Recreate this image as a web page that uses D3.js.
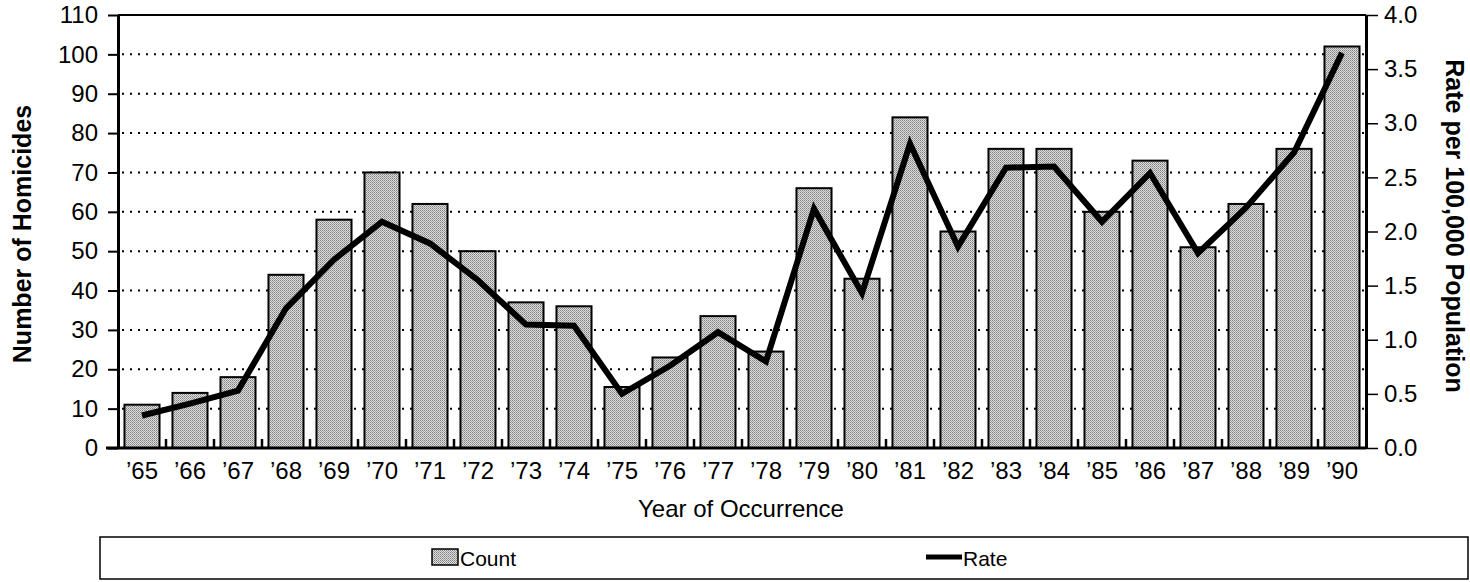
<!DOCTYPE html>
<html>
<head>
<meta charset="utf-8">
<script src="https://cdn.jsdelivr.net/npm/d3@7"></script>
<style>
    body { margin: 0; background: #fff; }
    svg { display: block; font-family: "Liberation Sans", Arial, sans-serif; }
    .axis path, .axis line { stroke: #000; }
    .axis text { fill: #000; }
    .grid line { stroke: #000; stroke-width: 2; stroke-dasharray: 2,6; }
</style>
</head>
<body>
<div id="chart"></div>
<script>
// values
var years = ["’65", "’66", "’67", "’68", "’69", "’70", "’71", "’72", "’73", "’74", "’75", "’76", "’77",
    "’78", "’79", "’80", "’81", "’82", "’83", "’84", "’85", "’86", "’87", "’88", "’89", "’90"];
var counts = [11, 14, 18, 44, 58, 70, 62, 50, 37, 36, 15.5, 23, 33.5, 24.5, 66, 43, 84, 55, 76, 76, 60, 73, 51, 62, 76, 102];
var rates = [0.3, 0.41, 0.53, 1.29, 1.74, 2.09, 1.89, 1.55, 1.14, 1.13, 0.5, 0.76, 1.07, 0.8, 2.21, 1.43, 2.81,
    1.86, 2.59, 2.6, 2.09, 2.54, 1.8, 2.22, 2.73, 3.65];
var countTicks = [0, 10, 20, 30, 40, 50, 60, 70, 80, 90, 100, 110];
var rateTicks = [0, 0.5, 1, 1.5, 2, 2.5, 3, 3.5, 4];

var width = 1470, height = 582;
var plotLeft = 118, plotRight = 1366, plotTop = 15, plotBottom = 448;

var svg = d3.select("#chart").append("svg").attr("width", width).attr("height", height);

// halftone-ish fill like the printed bars
var pat = svg.append("defs").append("pattern")
    .attr("id", "dots").attr("width", 2).attr("height", 2)
    .attr("patternUnits", "userSpaceOnUse");
pat.append("rect").attr("width", 2).attr("height", 2).attr("fill", "#dedede");
pat.append("rect").attr("width", 1).attr("height", 1).attr("fill", "#7e7e7e");
pat.append("rect").attr("x", 1).attr("y", 1).attr("width", 1).attr("height", 1).attr("fill", "#a0a0a0");

var x = d3.scaleBand().domain(years).range([plotLeft, plotRight]);
var yL = d3.scaleLinear().domain([0, 110]).range([plotBottom, plotTop]);
var yR = d3.scaleLinear().domain([0, 4]).range([plotBottom, plotTop]);

// dotted grid
svg.append("g").attr("class", "grid")
    .selectAll("line")
    .data(countTicks.filter(function (d) { return d > 0 && d < 110; }))
    .enter().append("line")
    .attr("x1", plotLeft + 4).attr("x2", plotRight)
    .attr("y1", function (d) { return yL(d); })
    .attr("y2", function (d) { return yL(d); });

// bars
var barW = x.bandwidth() * 0.73;
svg.append("g").selectAll("rect")
    .data(counts)
    .enter().append("rect")
    .attr("x", function (d, i) { return x(years[i]) + (x.bandwidth() - barW) / 2; })
    .attr("y", function (d) { return yL(d); })
    .attr("width", barW)
    .attr("height", function (d) { return plotBottom - yL(d); })
    .attr("fill", "url(#dots)")
    .attr("stroke", "#000")
    .attr("stroke-width", 2);

// small category ticks between bars
svg.append("g").selectAll("line")
    .data(years.slice(1))
    .enter().append("line")
    .attr("x1", function (d) { return x(d); })
    .attr("x2", function (d) { return x(d); })
    .attr("y1", plotBottom).attr("y2", plotBottom - 9)
    .attr("stroke", "#000").attr("stroke-width", 2.5);

// rate line
var line = d3.line()
    .x(function (d, i) { return x(years[i]) + x.bandwidth() / 2; })
    .y(function (d) { return yR(d); });
svg.append("path")
    .datum(rates)
    .attr("d", line)
    .attr("fill", "none")
    .attr("stroke", "#000")
    .attr("stroke-width", 6)
    .attr("stroke-linejoin", "miter");

// frame
svg.append("line").attr("x1", plotLeft).attr("x2", plotRight).attr("y1", plotTop).attr("y2", plotTop)
    .attr("stroke", "#000").attr("stroke-width", 2);

// axes
var gl = svg.append("g").attr("class", "axis").attr("transform", "translate(" + plotLeft + ",0)")
    .call(d3.axisLeft(yL).tickValues(countTicks).tickSize(10).tickPadding(10).tickSizeOuter(0));
gl.select(".domain").attr("stroke-width", 3);
gl.selectAll(".tick line").attr("stroke-width", 2);
gl.selectAll("text").style("font-size", "24px");

var gr = svg.append("g").attr("class", "axis").attr("transform", "translate(" + plotRight + ",0)")
    .call(d3.axisRight(yR).tickValues(rateTicks).tickFormat(d3.format(".1f")).tickSize(12).tickPadding(6).tickSizeOuter(0));
gr.select(".domain").attr("stroke-width", 3);
gr.selectAll(".tick line").attr("stroke-width", 1.5);
gr.selectAll("text").style("font-size", "24px");

var gb = svg.append("g").attr("class", "axis").attr("transform", "translate(0," + plotBottom + ")")
    .call(d3.axisBottom(x).tickSize(0).tickPadding(14));
gb.select(".domain").remove();
gb.selectAll("text").style("font-size", "24px");
svg.append("line").attr("x1", plotLeft - 12).attr("x2", plotRight).attr("y1", plotBottom).attr("y2", plotBottom)
    .attr("stroke", "#000").attr("stroke-width", 3);

// axis titles
svg.append("text")
    .attr("transform", "translate(31,234) rotate(-90)")
    .attr("text-anchor", "middle")
    .style("font-size", "25px").style("font-weight", "bold")
    .text("Number of Homicides");

svg.append("text")
    .attr("transform", "translate(1446,226) rotate(90)")
    .attr("text-anchor", "middle")
    .style("font-size", "25px").style("font-weight", "bold")
    .text("Rate per 100,000 Population");

svg.append("text")
    .attr("x", 741).attr("y", 517)
    .attr("text-anchor", "middle")
    .style("font-size", "24px")
    .text("Year of Occurrence");

// legend
var lg = svg.append("g");
lg.append("rect").attr("x", 100).attr("y", 537).attr("width", 1368).attr("height", 42)
    .attr("fill", "none").attr("stroke", "#000").attr("stroke-width", 1.5);
lg.append("rect").attr("x", 432).attr("y", 549).attr("width", 26).attr("height", 16)
    .attr("fill", "url(#dots)").attr("stroke", "#000").attr("stroke-width", 1.5);
lg.append("text").attr("x", 460).attr("y", 566).style("font-size", "21px").text("Count");
lg.append("line").attr("x1", 926).attr("x2", 962).attr("y1", 557).attr("y2", 557)
    .attr("stroke", "#000").attr("stroke-width", 5);
lg.append("text").attr("x", 963).attr("y", 566).style("font-size", "21px").text("Rate");
</script>
</body>
</html>
